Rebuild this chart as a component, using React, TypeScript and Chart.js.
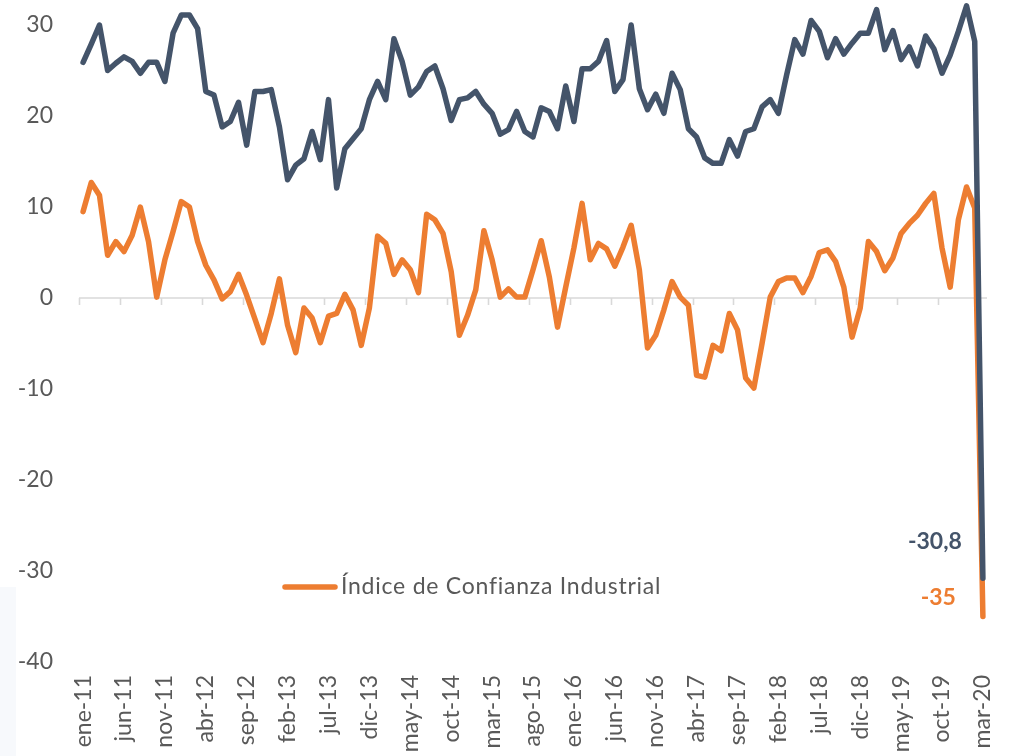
import React, { useEffect, useRef } from "react";
import { Chart, registerables } from "chart.js";

Chart.register(...registerables);

const monthNames = ["ene", "feb", "mar", "abr", "may", "jun", "jul", "ago", "sep", "oct", "nov", "dic"];
const categories: string[] = [];
for (let y = 11; y <= 20; y++) {
  for (let m = 0; m < 12; m++) {
    if (y === 20 && m > 2) break;
    categories.push(`${monthNames[m]}-${y}`);
  }
}

const tickLabels = [
  "ene-11", "jun-11", "nov-11", "abr-12", "sep-12", "feb-13", "jul-13", "dic-13",
  "may-14", "oct-14", "mar-15", "ago-15", "ene-16", "jun-16", "nov-16", "abr-17",
  "sep-17", "feb-18", "jul-18", "dic-18", "may-19", "oct-19", "mar-20",
];

const yTicks = [-40, -30, -20, -10, 0, 10, 20, 30];

const navySeries = [
  25.9, 27.9, 30.0, 25.0, 25.8, 26.5, 26.0, 24.7, 25.9, 25.9,
  23.8, 29.1, 31.1, 31.1, 29.6, 22.7, 22.3, 18.8, 19.4, 21.5,
  16.8, 22.7, 22.7, 22.9, 18.8, 13.0, 14.6, 15.3, 18.3, 15.2,
  21.8, 12.1, 16.4, 17.5, 18.6, 21.8, 23.8, 21.8, 28.5, 26.0,
  22.3, 23.2, 24.9, 25.5, 23.0, 19.5, 21.8, 22.0, 22.7, 21.3,
  20.3, 18.0, 18.5, 20.5, 18.3, 17.7, 20.9, 20.5, 18.6, 23.3,
  19.4, 25.2, 25.2, 26.0, 28.3, 22.7, 24.0, 30.0, 23.0, 20.7,
  22.4, 20.3, 24.7, 22.9, 18.6, 17.7, 15.4, 14.8, 14.8, 17.4,
  15.6, 18.3, 18.6, 21.0, 21.8, 20.3, 24.5, 28.4, 26.8, 30.5,
  29.3, 26.4, 28.5, 26.8, 28.0, 29.1, 29.1, 31.7, 27.3, 29.4,
  26.2, 27.6, 25.5, 28.8, 27.4, 24.7, 26.7, 29.3, 32.1, 28.2,
  -30.8,
];

const industrial = [
  9.5, 12.7, 11.3, 4.7, 6.2, 5.1, 6.9, 10.0, 6.2, 0.1,
  4.2, 7.3, 10.6, 10.0, 6.2, 3.6, 2.0, -0.1, 0.7, 2.6,
  0.3, -2.3, -4.9, -1.7, 2.1, -3.0, -6.0, -1.1, -2.2, -4.9,
  -2.0, -1.7, 0.4, -1.3, -5.2, -1.1, 6.8, 6.0, 2.6, 4.2,
  3.1, 0.6, 9.2, 8.6, 7.1, 2.9, -4.1, -1.9, 0.9, 7.4,
  4.2, 0.1, 1.0, 0.1, 0.1, 3.1, 6.3, 2.3, -3.2, 1.2,
  5.5, 10.4, 4.2, 6.0, 5.4, 3.5, 5.6, 8.0, 3.1, -5.5,
  -4.1, -1.3, 1.8, 0.1, -0.8, -8.5, -8.7, -5.2, -5.8, -1.7,
  -3.5, -8.8, -9.9, -5.0, 0.1, 1.8, 2.2, 2.2, 0.6, 2.4,
  5.0, 5.3, 4.0, 1.2, -4.3, -1.1, 6.2, 5.1, 3.0, 4.4,
  7.1, 8.2, 9.1, 10.4, 11.5, 5.5, 1.2, 8.6, 12.2, 9.9,
  -35,
];

const NAVY = "#44546A";
const ORANGE = "#ED7D31";
const GRAY_TEXT = "#595959";
const AXIS_GRAY = "#D9D9D9";
const FONT = "Lato, 'Open Sans', sans-serif";
const legendText = "Índice de Confianza Industrial";

const zeroAxisPlugin = {
  id: "zeroAxis",
  beforeDatasetsDraw(chart: any) {
    const { ctx, chartArea } = chart;
    const xs = chart.scales.x;
    const ys = chart.scales.y;
    const y0 = ys.getPixelForValue(0);
    const half = (xs.getPixelForValue(1) - xs.getPixelForValue(0)) / 2;
    ctx.save();
    ctx.strokeStyle = AXIS_GRAY;
    ctx.lineWidth = 1.6;
    ctx.beginPath();
    ctx.moveTo(chartArea.left, y0);
    ctx.lineTo(chartArea.right, y0);
    for (let i = 0; i < categories.length; i += 5) {
      const px = Math.round(xs.getPixelForValue(i) - half) + 0.5;
      ctx.moveTo(px, y0);
      ctx.lineTo(px, y0 + 7);
    }
    ctx.stroke();
    ctx.restore();
  },
};

const overlayPlugin = {
  id: "overlay",
  afterDatasetsDraw(chart: any) {
    const { ctx } = chart;
    const xs = chart.scales.x;
    const ys = chart.scales.y;
    ctx.save();
    // legend
    ctx.strokeStyle = ORANGE;
    ctx.lineWidth = 5.5;
    ctx.lineCap = "round";
    ctx.beginPath();
    ctx.moveTo(285, 587);
    ctx.lineTo(335, 587);
    ctx.stroke();
    ctx.font = `23px ${FONT}`;
    ctx.fillStyle = GRAY_TEXT;
    ctx.textAlign = "left";
    ctx.textBaseline = "middle";
    const w = ctx.measureText(legendText).width;
    const target = 319;
    try {
      (ctx as any).letterSpacing = `${(target - w) / (legendText.length - 1)}px`;
    } catch (e) {}
    ctx.fillText(legendText, 341, 587);
    try {
      (ctx as any).letterSpacing = "0px";
    } catch (e) {}
    // end labels
    const last = categories.length - 1;
    const lx = xs.getPixelForValue(last);
    ctx.font = `bold 23px ${FONT}`;
    ctx.textAlign = "right";
    ctx.fillStyle = NAVY;
    ctx.fillText("-30,8", lx - 21, ys.getPixelForValue(navySeries[last]) - 37);
    ctx.fillStyle = ORANGE;
    ctx.fillText("-35", lx - 27, ys.getPixelForValue(industrial[last]) - 19);
    ctx.restore();
  },
};

export default function App() {
  const ref = useRef<HTMLCanvasElement | null>(null);
  useEffect(() => {
    if (!ref.current) return;
    const chart = new Chart(ref.current, {
      type: "line",
      data: {
        labels: categories,
        datasets: [
          {
            label: "Serie 2",
            data: navySeries,
            borderColor: NAVY,
            backgroundColor: NAVY,
            borderWidth: 5.5,
            pointRadius: 0,
            tension: 0,
            borderJoinStyle: "round",
            borderCapStyle: "round",
          },
          {
            label: legendText,
            data: industrial,
            borderColor: ORANGE,
            backgroundColor: ORANGE,
            borderWidth: 5.5,
            pointRadius: 0,
            tension: 0,
            borderJoinStyle: "round",
            borderCapStyle: "round",
          },
        ],
      },
      options: {
        responsive: false,
        animation: false,
        devicePixelRatio: 1,
        layout: { padding: { left: 0, right: 25, top: 0, bottom: 0 } },
        plugins: {
          legend: { display: false },
          tooltip: { enabled: false },
        },
        scales: {
          x: {
            type: "category",
            offset: true,
            grid: { display: false, drawTicks: false },
            border: { display: false },
            ticks: {
              autoSkip: false,
              minRotation: 90,
              maxRotation: 90,
              padding: 13,
              color: GRAY_TEXT,
              font: { family: FONT, size: 23 },
              callback: (_v: any, i: number) => (tickLabels.includes(categories[i]) ? categories[i] : ""),
            },
            afterFit: (s: any) => {
              s.height = 94;
              s.paddingLeft = 0;
              s.paddingRight = 0;
            },
          },
          y: {
            min: -40,
            max: 32.75,
            grid: { display: false, drawTicks: false },
            border: { display: false },
            afterBuildTicks: (s: any) => {
              s.ticks = yTicks.map((v) => ({ value: v }));
            },
            ticks: {
              padding: 26,
              color: GRAY_TEXT,
              font: { family: FONT, size: 23 },
            },
            afterFit: (s: any) => {
              s.width = 79;
              s.paddingTop = 0;
              s.paddingBottom = 0;
            },
          },
        },
      },
      plugins: [zeroAxisPlugin, overlayPlugin],
    } as any);
    return () => chart.destroy();
  }, []);

  return (
    <div style={{ position: "fixed", left: 0, top: 0, width: 1012, height: 756, background: "#ffffff", overflow: "hidden" }}>
      <div style={{ position: "absolute", left: 0, top: 587, width: 16, height: 169, background: "#F7F9FC" }} />
      <canvas ref={ref} width={1012} height={756} style={{ position: "absolute", left: 0, top: 0, width: 1012, height: 756 }} />
    </div>
  );
}
